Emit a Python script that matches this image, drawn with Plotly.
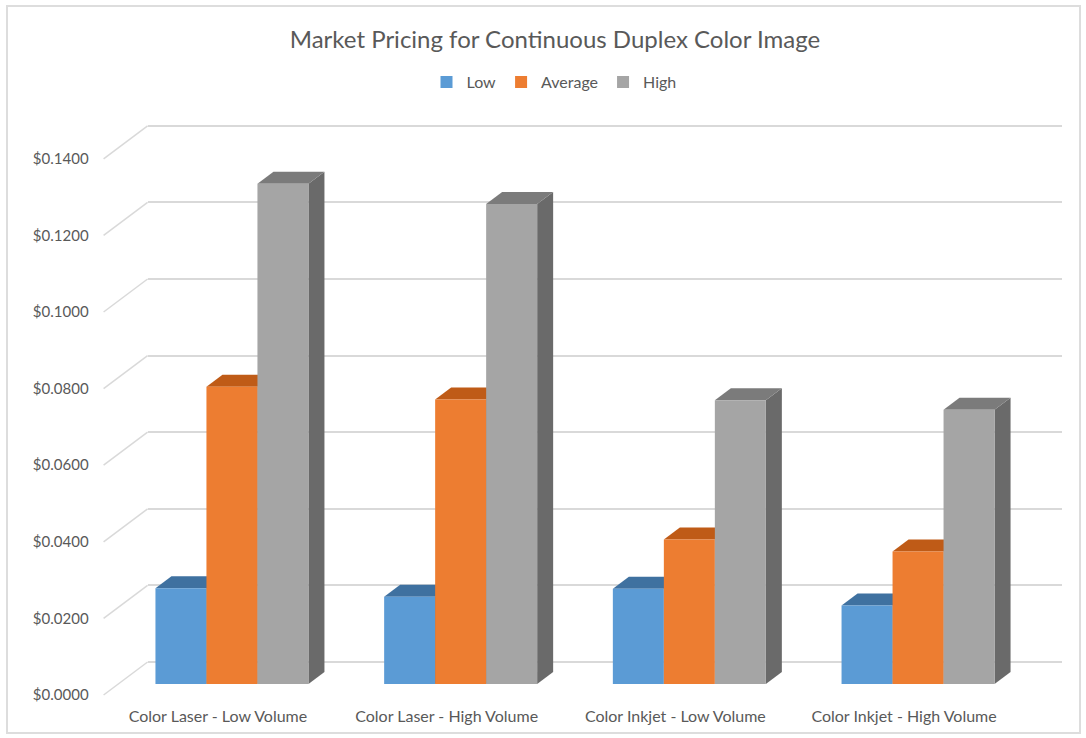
import plotly.graph_objects as go

# ---------------- data ----------------
categories = ["Color Laser - Low Volume", "Color Laser - High Volume",
              "Color Inkjet - Low Volume", "Color Inkjet - High Volume"]
series_names = ["Low", "Average", "High"]
low = [0.0250, 0.0228, 0.0249, 0.0205]
average = [0.0776, 0.0743, 0.0377, 0.0346]
high = [0.1306, 0.1253, 0.0741, 0.0716]
y_tickvals = [0.0, 0.02, 0.04, 0.06, 0.08, 0.10, 0.12, 0.14]

front_colors = ["#5B9BD5", "#ED7D31", "#A5A5A5"]
top_colors = ["#3F71A0", "#BF5B17", "#7B7B7B"]
side_colors = ["#33618E", "#A94F12", "#6A6A6A"]

# ---------------- geometry (pixels) ----------------
W, H = 1086, 738
PPU = 3830.0            # pixels per value unit
CAT_PX = 228.7          # pixels per category
BAR_X0 = 117.6          # pixel x of category -0.5 (bar plane)
BAR_Y0 = 684.0          # pixel y of value 0 (bar plane)
LABEL_OFF = (-14.0, 11.0)
BACK_OFF = (30.0, -22.0)
BAR_DEPTH = (16.0, -12.0)
BARGAP = 0.331
XR = [-0.5, 3.5]
YR = [-0.0005, 0.1405]


def xdom(x0px):
    return [x0px / W, (x0px + (XR[1] - XR[0]) * CAT_PX) / W]


def ydom(y0px, lo, hi):
    top = y0px - hi * PPU
    bottom = y0px - lo * PPU
    return [1 - bottom / H, 1 - top / H]


fig = go.Figure()

# invisible anchor traces so the back-wall and label subplots exist
fig.add_trace(go.Scatter(x=[0, 1, 2, 3], y=[None] * 4, xaxis="x", yaxis="y",
                         mode="markers", showlegend=False, hoverinfo="skip"))
fig.add_trace(go.Scatter(x=categories, y=[None] * 4, xaxis="x3", yaxis="y3",
                         mode="markers", showlegend=False, hoverinfo="skip"))

series = [low, average, high]
for name, vals, col in zip(series_names, series, front_colors):
    fig.add_trace(go.Bar(x=categories, y=vals, name=name, marker_color=col,
                         marker_line_width=0, xaxis="x2", yaxis="y2",
                         hoverinfo="skip"))

# 3D faces for each bar (derived from values and the bar layout)
bw = (1 - BARGAP) / 3
ddx = BAR_DEPTH[0] / CAT_PX
ddy = -BAR_DEPTH[1] / PPU
shapes = []
for j, vals in enumerate(series):
    for i, v in enumerate(vals):
        x0 = i - (1 - BARGAP) / 2 + j * bw
        x1 = x0 + bw
        side = f"M{x1},0 L{x1 + ddx},{ddy} L{x1 + ddx},{v + ddy} L{x1},{v} Z"
        top = f"M{x0},{v} L{x1},{v} L{x1 + ddx},{v + ddy} L{x0 + ddx},{v + ddy} Z"
        shapes.append(dict(type="path", path=side, xref="x2", yref="y2",
                           fillcolor=side_colors[j], line=dict(width=0), layer="below"))
        shapes.append(dict(type="path", path=top, xref="x2", yref="y2",
                           fillcolor=top_colors[j], line=dict(width=0), layer="below"))

# side-wall diagonals linking labels to back-wall gridlines
for v in y_tickvals:
    fx = BAR_X0 + LABEL_OFF[0]
    fy = BAR_Y0 + LABEL_OFF[1] - v * PPU
    bx = BAR_X0 + BACK_OFF[0]
    by = BAR_Y0 + BACK_OFF[1] - v * PPU
    shapes.append(dict(type="line", xref="paper", yref="paper",
                       x0=fx / W, y0=1 - fy / H, x1=bx / W, y1=1 - by / H,
                       line=dict(color="#D9D9D9", width=1.5), layer="below"))

# outer chart border
shapes.append(dict(type="rect", xref="paper", yref="paper",
                   x0=7 / W, y0=1 - 733 / H, x1=1080 / W, y1=1 - 6 / H,
                   line=dict(color="#DDDDDD", width=2), layer="below"))

font_family = "Lato, 'Open Sans', sans-serif"
txt = "#595959"

fig.update_layout(
    width=W, height=H, autosize=False,
    margin=dict(l=0, r=0, t=0, b=0, autoexpand=False),
    paper_bgcolor="white", plot_bgcolor="rgba(0,0,0,0)",
    barmode="group", bargap=BARGAP, bargroupgap=0,
    font=dict(family=font_family, color=txt),
    title=dict(text="Market Pricing for Continuous Duplex Color Image",
               x=555 / W, xanchor="center", y=1 - 40 / H, yanchor="middle",
               font=dict(size=24, color=txt, family=font_family)),
    legend=dict(orientation="h", x=554 / W, xanchor="center",
                y=1 - 82 / H, yanchor="middle", font=dict(size=16, color=txt),
                itemwidth=30, bgcolor="rgba(0,0,0,0)"),
    shapes=shapes,
    # back wall (gridlines)
    xaxis=dict(domain=xdom(BAR_X0 + BACK_OFF[0]), range=XR, visible=False,
               anchor="y", type="linear", automargin=False),
    yaxis=dict(domain=ydom(BAR_Y0 + BACK_OFF[1], YR[0], YR[1]), range=YR,
               anchor="x", tickmode="array", tickvals=y_tickvals,
               showticklabels=False, showgrid=True, gridcolor="#D9D9D9",
               gridwidth=1.5, zeroline=False, showline=False, ticks="",
               automargin=False),
    # bar plane
    xaxis2=dict(domain=xdom(BAR_X0), range=XR, anchor="y2", type="category",
                showticklabels=False, showgrid=False, zeroline=False,
                showline=False, ticks="", automargin=False),
    yaxis2=dict(domain=ydom(BAR_Y0, YR[0], YR[1]), range=YR, anchor="x2",
                showticklabels=False, showgrid=False, zeroline=False,
                showline=False, ticks="", automargin=False),
    # front label plane
    xaxis3=dict(domain=xdom(BAR_X0 + LABEL_OFF[0]), range=XR, anchor="y3",
                type="category", categoryorder="array", categoryarray=categories,
                showgrid=False, zeroline=False, showline=False, ticks="",
                tickfont=dict(size=16, color=txt), ticklabelstandoff=8,
                automargin=False),
    yaxis3=dict(domain=ydom(BAR_Y0 + LABEL_OFF[1], YR[0], YR[1]), range=YR,
                anchor="x3", tickmode="array", tickvals=y_tickvals,
                tickformat="$.4f", showgrid=False, zeroline=False,
                showline=False, ticks="", tickfont=dict(size=15, color=txt),
                ticklabelstandoff=14, automargin=False),
)

fig.write_html("out.html")
